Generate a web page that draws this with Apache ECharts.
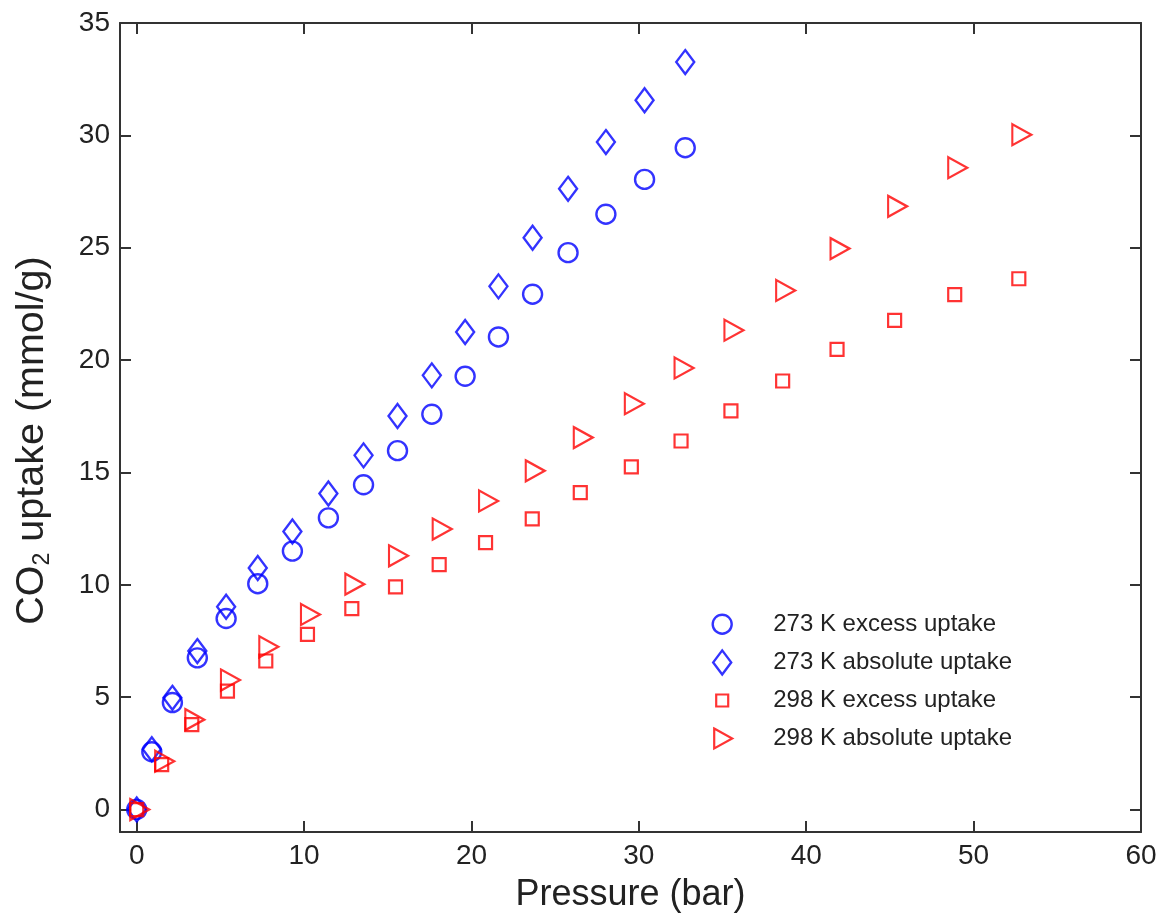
<!DOCTYPE html>
<html>
<head>
<meta charset="utf-8">
<script src="https://cdn.jsdelivr.net/npm/echarts@6/dist/echarts.min.js"></script>
<style>
  html, body { margin: 0; padding: 0; background: #ffffff; }
  #chart { width: 1163px; height: 919px; }
</style>
</head>
<body>
<div id="chart"></div>
<script>
// CO2 adsorption isotherms: pressure (bar) vs uptake (mmol/g)
const pressure273 = [0, 0.9, 2.13, 3.62, 5.34, 7.23, 9.3, 11.45, 13.55, 15.58, 17.63, 19.62, 21.61, 23.65, 25.77, 28.03, 30.34, 32.77];
const excess273   = [0, 2.57, 4.76, 6.75, 8.5, 10.05, 11.5, 12.98, 14.45, 15.97, 17.59, 19.28, 21.03, 22.93, 24.78, 26.49, 28.04, 29.45];
const absolute273 = [0, 2.68, 4.97, 7.05, 9.02, 10.75, 12.37, 14.06, 15.76, 17.51, 19.32, 21.25, 23.28, 25.44, 27.62, 29.7, 31.56, 33.26];

const pressure298 = [0, 1.49, 3.29, 5.42, 7.71, 10.2, 12.85, 15.46, 18.07, 20.84, 23.63, 26.5, 29.55, 32.52, 35.5, 38.59, 41.84, 45.28, 48.87, 52.7];
const excess298   = [0, 2.0, 3.78, 5.27, 6.61, 7.79, 8.94, 9.91, 10.9, 11.88, 12.93, 14.1, 15.25, 16.4, 17.74, 19.07, 20.48, 21.77, 22.91, 23.62];
const absolute298 = [0, 2.15, 4.0, 5.76, 7.24, 8.68, 10.03, 11.29, 12.48, 13.73, 15.07, 16.55, 18.06, 19.65, 21.33, 23.1, 24.96, 26.84, 28.56, 30.03];

const seriesNames = ['273 K excess uptake', '273 K absolute uptake', '298 K excess uptake', '298 K absolute uptake'];
const xTicks = [0, 10, 20, 30, 40, 50, 60];
const yTicks = [0, 5, 10, 15, 20, 25, 30, 35];

const FONT = '"Liberation Sans", Arial, Helvetica, sans-serif';
const AXIS_COLOR = '#333333';
const TEXT_COLOR = '#222222';
const BLUE = '#0000ff';
const RED = '#ff0000';

// right-pointing triangle marker
const TRIANGLE = 'path://M0,0 L10,5 L0,10 Z';

function zip(xs, ys) {
  return xs.map((x, i) => [x, ys[i]]);
}

function axisBase(ticks, labelShow, min, max) {
  return {
    type: 'value',
    min: min,
    max: max,
    axisLine: { show: true, onZero: false, lineStyle: { color: AXIS_COLOR, width: 2 } },
    axisTick: { show: true, inside: true, length: 11, customValues: ticks, lineStyle: { color: AXIS_COLOR, width: 2 } },
    axisLabel: {
      show: labelShow, customValues: ticks, margin: 10,
      fontSize: 28, fontFamily: FONT, color: TEXT_COLOR
    },
    splitLine: { show: false }
  };
}

function hollow(color, w) {
  return { color: 'rgba(255,255,255,0)', borderColor: color, borderWidth: w };
}

const xBottom = Object.assign(axisBase(xTicks, true, -1, 60), {
  position: 'bottom',
  name: 'Pressure (bar)',
  nameLocation: 'middle',
  nameGap: 45,
  nameTextStyle: { fontSize: 36, fontFamily: FONT, color: TEXT_COLOR }
});
const xTop = Object.assign(axisBase(xTicks, false, -1, 60), { position: 'top' });

const yLeft = Object.assign(axisBase(yTicks, true, -1, 35), {
  position: 'left',
  name: '{n|CO}{s|2}{n| uptake (mmol/g)}',
  nameLocation: 'middle',
  nameRotate: 90,
  nameGap: 66,
  nameTextStyle: {
    fontFamily: FONT, color: TEXT_COLOR, fontSize: 39.5,
    padding: [0, 26, 0, 0],
    rich: {
      n: { fontSize: 39.5, fontFamily: FONT, color: TEXT_COLOR, lineHeight: 44 },
      s: { fontSize: 23, fontFamily: FONT, color: TEXT_COLOR, lineHeight: 23, padding: [21, 0, 0, 0] }
    }
  }
});
const yRight = Object.assign(axisBase(yTicks, false, -1, 35), { position: 'right' });

const chart = echarts.init(document.getElementById('chart'), null, { renderer: 'canvas' });

chart.setOption({
  animation: false,
  backgroundColor: '#ffffff',
  grid: { left: 120, right: 22, top: 23, bottom: 87, containLabel: false },
  xAxis: [xBottom, xTop],
  yAxis: [yLeft, yRight],
  legend: {
    orient: 'vertical',
    left: 710,
    top: 610,
    padding: 0,
    itemWidth: 22,
    itemHeight: 26,
    itemGap: 9.8,
    selectedMode: false,
    textStyle: { fontSize: 24, fontFamily: FONT, color: TEXT_COLOR, lineHeight: 26, padding: [0, 0, 0, 35] },
    data: [
      { name: seriesNames[0], icon: 'path://M0,0 M22,26 M20.5,13 A9.5,9.5 0 1 1 1.5,13 A9.5,9.5 0 1 1 20.5,13 Z', itemStyle: hollow(BLUE, 2.4) },
      { name: seriesNames[1], icon: 'path://M0,0 M22,26 M11,1 L20,13 L11,25 L2,13 Z', itemStyle: hollow(BLUE, 2.4) },
      { name: seriesNames[2], icon: 'path://M0,0 M22,26 M5,7 L17,7 L17,19 L5,19 Z', itemStyle: hollow(RED, 2.2) },
      { name: seriesNames[3], icon: 'path://M0,0 M22,26 M3,3 L21,13 L3,23 Z', itemStyle: hollow(RED, 2.2) }
    ]
  },
  series: [
    {
      name: seriesNames[0], type: 'scatter', xAxisIndex: 0, yAxisIndex: 0,
      data: zip(pressure273, excess273),
      symbol: 'circle', symbolSize: 19,
      itemStyle: hollow(BLUE, 2.4), emphasis: { disabled: true }
    },
    {
      name: seriesNames[1], type: 'scatter', xAxisIndex: 0, yAxisIndex: 0,
      data: zip(pressure273, absolute273),
      symbol: 'diamond', symbolSize: [18, 24],
      itemStyle: hollow(BLUE, 2.4), emphasis: { disabled: true }
    },
    {
      name: seriesNames[2], type: 'scatter', xAxisIndex: 0, yAxisIndex: 0,
      data: zip(pressure298, excess298),
      symbol: 'rect', symbolSize: 13,
      itemStyle: hollow(RED, 2.2), emphasis: { disabled: true }
    },
    {
      name: seriesNames[3], type: 'scatter', xAxisIndex: 0, yAxisIndex: 0,
      data: zip(pressure298, absolute298),
      symbol: TRIANGLE, symbolSize: [19, 21], symbolOffset: [3, 0],
      itemStyle: hollow(RED, 2.2), emphasis: { disabled: true }
    }
  ]
});
</script>
</body>
</html>
